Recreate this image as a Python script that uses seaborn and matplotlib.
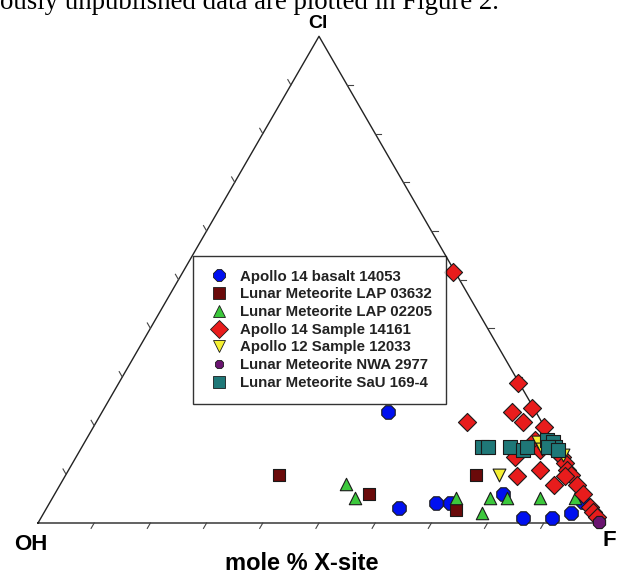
#ternary plot of X-site apatite compositions (OH - F - Cl) with seaborn

import numpy as np
import pandas as pd
import seaborn as sns
import matplotlib.pyplot as plt
from matplotlib.lines import Line2D

#mole % values, per sample (F, Cl), OH is the rest
apollo14_basalt_F = [50.9, 62.7, 68.8, 71.3, 79.7, 85.8, 91.0, 93.8, 94.8]
apollo14_basalt_Cl = [22.8, 3.1, 4.1, 4.1, 6.0, 1.0, 1.0, 2.1, 4.3]

lap03632_F = [37.9, 55.9, 73.1, 73.0]
lap03632_Cl = [9.9, 6.0, 2.7, 9.9]

lap02205_F = [50.8, 53.8, 71.8, 78.0, 77.8, 80.9, 86.7, 93.0]
lap02205_Cl = [8.0, 5.1, 5.1, 2.1, 5.1, 5.1, 5.1, 5.1]

apollo14_sample_F = [48.0, 71.0, 76.1, 72.9, 75.9, 65.9, 80.1, 79.9, 81.8, 78.1, 83.9, 80.3,
                     87.9, 85.3, 86.4, 87.6, 88.7, 89.9, 89.0, 92.0, 94.0, 96.6, 97.6, 98.8]
apollo14_sample_Cl = [51.6, 28.8, 23.6, 22.8, 20.8, 20.8, 19.7, 17.1, 15.0, 13.6, 10.9, 9.7,
                      7.8, 14.4, 13.6, 12.3, 10.9, 9.9, 9.7, 7.8, 6.0, 3.3, 2.3, 1.2]

apollo12_sample_F = [77.0, 80.7, 82.1, 86.4]
apollo12_sample_Cl = [9.9, 16.6, 15.2, 14.0]

nwa2977_F = [99.7]
nwa2977_Cl = [0.2]

sau169_F = [71.2, 72.3, 76.2, 78.8, 79.2, 82.1, 83.3, 84.2, 82.9, 85.0]
sau169_Cl = [15.6, 15.6, 15.6, 15.0, 15.6, 17.1, 16.6, 15.6, 15.6, 15.0]

labels = ['Apollo 14 basalt 14053', 'Lunar Meteorite LAP 03632', 'Lunar Meteorite LAP 02205',
          'Apollo 14 Sample 14161', 'Apollo 12 Sample 12033', 'Lunar Meteorite NWA 2977',
          'Lunar Meteorite SaU 169-4']
colors = ['#0010f0', '#6a0a0a', '#3cc83c', '#e81c1c', '#f5f032', '#6a1470', '#1f7878']
markers = ['8', 's', '^', 'D', 'v', '8', 's']
sizes = [110, 75, 80, 85, 85, 90, 95]

series_F = [apollo14_basalt_F, lap03632_F, lap02205_F, apollo14_sample_F,
            apollo12_sample_F, nwa2977_F, sau169_F]
series_Cl = [apollo14_basalt_Cl, lap03632_Cl, lap02205_Cl, apollo14_sample_Cl,
             apollo12_sample_Cl, nwa2977_Cl, sau169_Cl]

#build one long table and convert to triangle coordinates
frames = []
for lab, f, cl in zip(labels, series_F, series_Cl):
    frames.append(pd.DataFrame({'sample': lab, 'F': f, 'Cl': cl}))
data = pd.concat(frames, ignore_index=True)
data['OH'] = 100 - data['F'] - data['Cl']
data['x'] = (data['F'] + data['Cl'] / 2) / 100
data['y'] = data['Cl'] / 100 * np.sqrt(3) / 2

plt.rcParams['font.family'] = ['Liberation Sans', 'DejaVu Sans']

#figure laid out in pixels: OH corner at (38,523), side 562 px
W, H = 617, 574
x0, y0, side = 38, 523, 562
fig = plt.figure(figsize=(W / 100, H / 100), dpi=100)
ax = fig.add_axes([0, 0, 1, 1])
ax.set_xlim(-x0 / side, (W - x0) / side)
ax.set_ylim((y0 - H) / side, y0 / side)
ax.axis('off')

#triangle frame
h = np.sqrt(3) / 2
ax.plot([0, 1, 0.5, 0], [0, 0, h, 0], color='#222222', lw=1.0, zorder=1)

#ticks every 10 %
tl = 0.011
for i in range(1, 10):
    t = i / 10
    ax.plot([t, t - 0.5 * tl], [0, -h * tl], color='#444444', lw=0.8)
    ax.plot([0.5 * t, 0.5 * t - 0.5 * tl], [h * t, h * t + h * tl], color='#444444', lw=0.8)
    ax.plot([1 - 0.5 * t, 1 - 0.5 * t + tl], [h * t, h * t], color='#444444', lw=0.8)

#data points
for lab, col, mk, sz in zip(labels, colors, markers, sizes):
    sub = data[data['sample'] == lab]
    sns.scatterplot(data=sub, x='x', y='y', color=col, marker=mk, s=sz,
                    edgecolor='#1a1a1a', linewidth=0.8, ax=ax, legend=False, zorder=3)

#legend
handles = [Line2D([], [], linestyle='none', marker=mk, color=col, markeredgecolor='#1a1a1a',
                  markeredgewidth=0.6, markersize=ms)
           for col, mk, ms in zip(colors, markers, [9, 8, 8, 9, 8, 7, 8])]
leg = ax.legend(handles, labels, loc='upper left',
                bbox_to_anchor=(193 / W, 1 - 256 / H), bbox_transform=fig.transFigure,
                frameon=True, fancybox=False, borderaxespad=0, borderpad=0.9,
                labelspacing=0.25, handletextpad=0.65, handlelength=1.6,
                prop={'size': 10.8, 'weight': 'bold'})
leg.get_frame().set_edgecolor('black')
leg.get_frame().set_linewidth(1.0)
for txt in leg.get_texts():
    txt.set_color('#222222')

#corner and axis labels
fig.text(318 / W, 1 - 23 / H, 'Cl', ha='center', va='center', fontsize=14, fontweight='bold')
fig.text(31 / W, 1 - 545 / H, 'OH', ha='center', va='center', fontsize=16, fontweight='bold')
fig.text(603 / W, 1 - 540 / H, 'F', ha='left', va='center', fontsize=16, fontweight='bold')
fig.text(302 / W, 1 - 564 / H, 'mole % X-site', ha='center', va='center', fontsize=17,
         fontweight='bold')

#clipped line of body text at the top of the page
fig.text(0, 1 - 9 / H, 'ously unpublished data are plotted in Figure 2.', ha='left',
         va='baseline', fontsize=19.4, family=['Liberation Serif', 'DejaVu Serif'])

plt.savefig('out.png', dpi=100)
